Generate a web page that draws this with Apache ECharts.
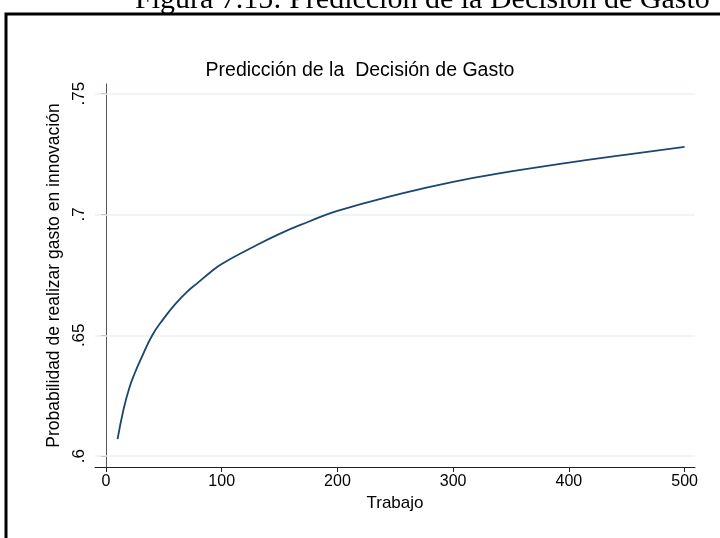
<!DOCTYPE html>
<html>
<head>
<meta charset="utf-8">
<script src="https://cdn.jsdelivr.net/npm/echarts@6/dist/echarts.min.js"></script>
<style>html,body{margin:0;padding:0;background:#fff}#c{width:720px;height:538px}</style>
</head>
<body>
<div id="c"></div>
<script>
const xValues = [10,15,20,25,30,40,50,60,70,80,90,100,125,150,175,200,250,300,350,400,450,500];
const yValues = [0.607,0.619,0.628,0.6345,0.640,0.650,0.657,0.663,0.668,0.672,0.676,0.6795,0.686,0.692,0.697,0.7015,0.708,0.7135,0.7178,0.7215,0.7248,0.728];
const xTicks = [0,100,200,300,400,500];
const yTicks = [0.6,0.65,0.7,0.75];

const chart = echarts.init(document.getElementById('c'), null, {renderer:'canvas'});
const data = xValues.map((x,i)=>[x,yValues[i]]);
chart.setOption({
  animation:false,
  backgroundColor:'#fff',
  title:{
    text:'Predicción de la  Decisión de Gasto',
    left:'center', top:56,
    textStyle:{fontFamily:'Liberation Sans', fontSize:19.5, fontWeight:'normal', color:'#000'}
  },
  graphic:[
    {type:'text', left:135, top:-15, style:{text:'Figura 7.15: Predicción de la Decisión de Gasto', font:'30px "Liberation Serif"', fill:'#000'}, z:10},
    {type:'rect', shape:{x:6, y:14, width:800, height:600}, style:{fill:'none', stroke:'#000', lineWidth:3}, z:10}
  ],
  grid:{left:95, right:25, top:84, bottom:71, containLabel:false},
  xAxis:{
    type:'value', min:-9.5, max:509,
    name:'Trabajo', nameLocation:'middle', nameGap:27,
    nameTextStyle:{fontFamily:'Liberation Sans', fontSize:17, color:'#000'},
    axisLine:{show:true, lineStyle:{color:'#222', width:1}},
    axisTick:{show:true, customValues:xTicks, length:5, lineStyle:{color:'#222'}},
    axisLabel:{customValues:xTicks, fontFamily:'Liberation Sans', fontSize:16, color:'#000', margin:7},
    splitLine:{show:false}
  },
  yAxis:{
    type:'value', min:0.5955, max:0.754,
    name:'Probabilidad de realizar gasto en innovación', nameLocation:'middle', nameGap:30, nameRotate:90,
    nameTextStyle:{fontFamily:'Liberation Sans', fontSize:17.5, color:'#000'},
    axisLine:{show:true, lineStyle:{color:'#555', width:1}},
    axisTick:{show:true, customValues:yTicks, length:5, lineStyle:{color:'#555'}},
    axisLabel:{customValues:yTicks, rotate:90, fontFamily:'Liberation Sans', fontSize:17, color:'#000', margin:7,
      formatter:v=>String(+v.toFixed(2)).replace(/^0/,'')},
    splitLine:{show:false}
  },
  series:[{
    type:'line', data:data, showSymbol:false, silent:true,
    lineStyle:{opacity:0},
    markLine:{
      silent:true, symbol:['none','none'], label:{show:false},
      lineStyle:{color:'#eaf2f3', type:'solid', width:1.5},
      data:yTicks.map(v=>({yAxis:v}))
    },
    z:1
  },{
    type:'line', data:data, showSymbol:false, smooth:0.5,
    lineStyle:{color:'#1a476f', width:1.8},
    z:5
  }]
});
</script>
</body>
</html>
